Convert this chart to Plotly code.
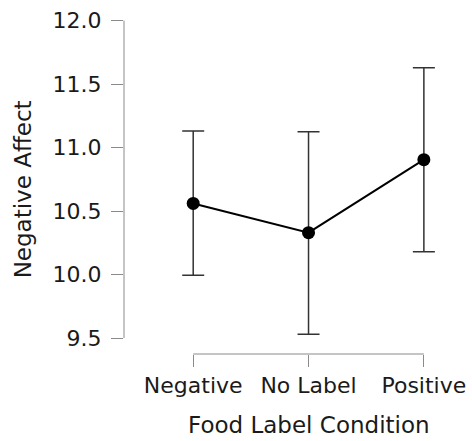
import plotly.graph_objects as go

categories = ["Negative", "No Label", "Positive"]
means = [10.56, 10.33, 10.905]
ci_upper = [11.13, 11.125, 11.63]
ci_lower = [9.995, 9.53, 10.18]
y_ticks = [9.5, 10.0, 10.5, 11.0, 11.5, 12.0]
y_tick_labels = ["9.5", "10.0", "10.5", "11.0", "11.5", "12.0"]

err_plus = [u - m for u, m in zip(ci_upper, means)]
err_minus = [m - l for m, l in zip(means, ci_lower)]

FONT = "DejaVu Sans"
AX = "#8a8a8a"
TXT = "#1a1a1a"

fig = go.Figure()
fig.add_trace(go.Scatter(
    x=categories, y=means, mode="lines+markers",
    line=dict(color="black", width=2),
    marker=dict(color="black", size=13),
    error_y=dict(type="data", symmetric=False, array=err_plus, arrayminus=err_minus,
                 color="#333333", thickness=1.5, width=11),
    showlegend=False, cliponaxis=False,
))

# offset axis lines (JASP style)
fig.add_shape(type="line", xref="paper", yref="y", x0=0, x1=0,
              y0=y_ticks[0], y1=y_ticks[-1], line=dict(color=AX, width=1))
fig.add_shape(type="line", xref="x", yref="paper", x0=categories[0], x1=categories[-1],
              y0=0, y1=0, line=dict(color=AX, width=1))

fig.update_layout(
    width=472, height=441,
    margin=dict(l=124, r=2, t=18, b=87),
    plot_bgcolor="white", paper_bgcolor="white",
    font=dict(family=FONT, size=22, color=TXT),
    xaxis=dict(type="category", range=[-0.6, 2.4], showline=False, showgrid=False,
               zeroline=False, ticks="outside", ticklen=12, tickcolor=AX, tickwidth=1,
               tickfont=dict(size=22, family=FONT, color=TXT)),
    yaxis=dict(range=[9.374, 12.021], showline=False, showgrid=False, zeroline=False,
               tickmode="array", tickvals=y_ticks, ticktext=y_tick_labels,
               ticks="outside", ticklen=12, tickcolor=AX, tickwidth=1,
               ticklabelstandoff=5,
               tickfont=dict(size=22, family=FONT, color=TXT)),
    annotations=[
        dict(text="Food Label Condition", xref="paper", yref="paper",
             x=0.5333, y=0, yshift=-71, showarrow=False, yanchor="middle",
             font=dict(size=23, family=FONT, color=TXT)),
        dict(text="Negative Affect", xref="paper", yref="paper",
             x=0, xshift=-101, y=0.49, showarrow=False, textangle=-90,
             xanchor="center", yanchor="middle",
             font=dict(size=23, family=FONT, color=TXT)),
    ],
)

fig.write_html("out.html")
